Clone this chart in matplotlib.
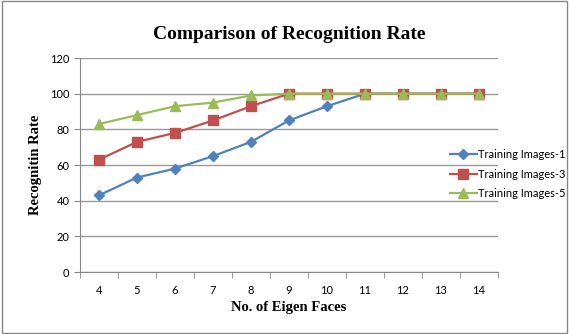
import numpy as np
import matplotlib.pyplot as plt
from matplotlib.patches import Rectangle

# Données
eigen_faces = [4, 5, 6, 7, 8, 9, 10, 11, 12, 13, 14]
train1 = [43, 53, 58, 65, 73, 85, 93, 100, 100, 100, 100]
train3 = [63, 73, 78, 85, 93, 100, 100, 100, 100, 100, 100]
train5 = [83, 88, 93, 95, 99, 100, 100, 100, 100, 100, 100]

plt.rcParams['font.family'] = ['Lato', 'DejaVu Sans']

fig = plt.figure(figsize=(5.69, 3.34), dpi=100)
ax = fig.add_axes([0.1406, 0.1856, 0.7346, 0.6406])

x = np.arange(len(eigen_faces))
ax.plot(x, train1, color='#4F81BD', marker='D', markersize=5, lw=1.6, label='Training Images-1')
ax.plot(x, train3, color='#C0504D', marker='s', markersize=6.5, lw=1.6, label='Training Images-3')
ax.plot(x, train5, color='#9BBB59', marker='^', markersize=7, lw=1.6, label='Training Images-5')

ax.set_xlim(-0.5, len(eigen_faces) - 0.5)
ax.set_ylim(0, 120)
ax.set_yticks(range(0, 121, 20))
ax.set_xticks(x)
ax.set_xticklabels([str(v) for v in eigen_faces])
ax.set_xticks(np.arange(-0.5, len(eigen_faces)), minor=True)
ax.tick_params(axis='x', which='major', length=0, labelsize=8, pad=9)
ax.tick_params(axis='x', which='minor', length=4, color='#888888')
ax.tick_params(axis='y', length=4, color='#888888', labelsize=8)
ax.grid(axis='y', color='#999999', lw=1)
ax.set_axisbelow(True)
for s in ['top', 'right']:
    ax.spines[s].set_visible(False)
for s in ['left', 'bottom']:
    ax.spines[s].set_color('#888888')

ax.set_title('Comparison of Recognition Rate', fontsize=14, fontweight='bold',
             family='Liberation Serif', pad=14)
ax.set_xlabel('No. of Eigen Faces', fontsize=10.5, fontweight='bold', family='Liberation Serif', labelpad=4)
ax.set_ylabel('Recognitin Rate', fontsize=10.5, fontweight='bold', family='Liberation Serif', labelpad=6)

leg = ax.legend(loc='center left', bbox_to_anchor=(0.885, 0.458), frameon=False, fontsize=8,
                handlelength=2.4, labelspacing=0.75, handletextpad=0.1, borderaxespad=0,
                borderpad=0)
leg.set_zorder(5)

fig.patches.append(Rectangle((0.003, 0.003), 0.994, 0.994, transform=fig.transFigure,
                             fill=False, edgecolor='#888888', lw=1))

fig.savefig('out.png', dpi=100)
